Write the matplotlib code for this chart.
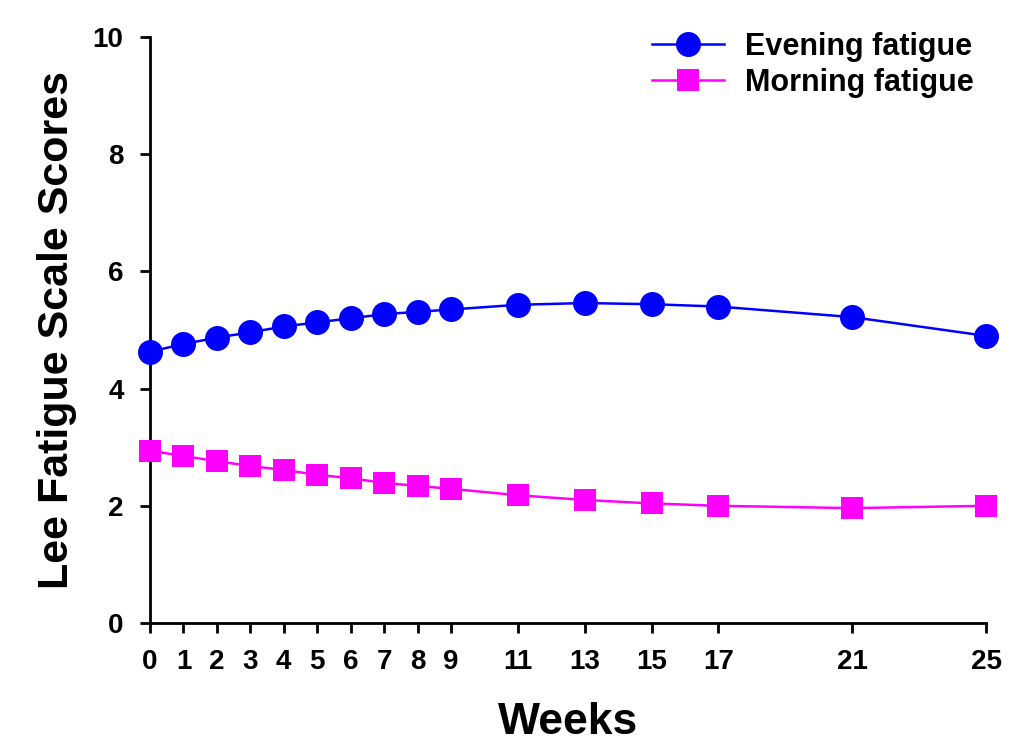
import matplotlib
matplotlib.use("Agg")
import matplotlib.pyplot as plt

weeks = [0, 1, 2, 3, 4, 5, 6, 7, 8, 9, 11, 13, 15, 17, 21, 25]
evening = [4.63, 4.76, 4.87, 4.96, 5.06, 5.13, 5.20, 5.27, 5.31, 5.35, 5.43, 5.46, 5.44, 5.40, 5.22, 4.90]
morning = [2.94, 2.85, 2.76, 2.68, 2.61, 2.53, 2.47, 2.39, 2.34, 2.29, 2.18, 2.10, 2.04, 2.00, 1.96, 2.00]
yticks = [0, 2, 4, 6, 8, 10]

plt.rcParams['font.family'] = ['Liberation Sans', 'DejaVu Sans']
plt.rcParams['font.weight'] = 'bold'

fig = plt.figure(figsize=(10.23, 7.48), dpi=100)
ax = fig.add_axes([150/1023, 1-623/748, (986-150)/1023, (623-37)/748])

ax.plot(weeks, evening, color='#0000FF', lw=1.8, marker='o', ms=18,
        markeredgewidth=0, label='Evening fatigue', clip_on=False, zorder=3)
ax.plot(weeks, morning, color='#FF00FF', lw=1.8, marker='s', ms=16,
        markeredgewidth=0, label='Morning fatigue', clip_on=False, zorder=3)

ax.set_xlim(0, 25)
ax.set_ylim(0, 10)
ax.set_xticks(weeks)
ax.set_xticklabels([str(w) for w in weeks])
ax.set_yticks(yticks)
for s in ['top', 'right']:
    ax.spines[s].set_visible(False)
for s in ['left', 'bottom']:
    ax.spines[s].set_linewidth(2)
ax.tick_params(axis='both', width=2, length=7, labelsize=20, pad=12)
for lab in ax.get_xticklabels() + ax.get_yticklabels():
    lab.set_fontweight('bold')

ax.set_xlabel('Weeks', fontsize=32, fontweight='bold', labelpad=19)
ax.set_ylabel('Lee Fatigue Scale Scores', fontsize=31, fontweight='bold', labelpad=11)

leg = ax.legend(loc='upper right', bbox_to_anchor=(1.0, 1.03), frameon=False,
                fontsize=22, handlelength=2.35, borderaxespad=0, labelspacing=0.2,
                handletextpad=0.7)
for t in leg.get_texts():
    t.set_fontweight('bold')

fig.savefig('out.png', dpi=100)
